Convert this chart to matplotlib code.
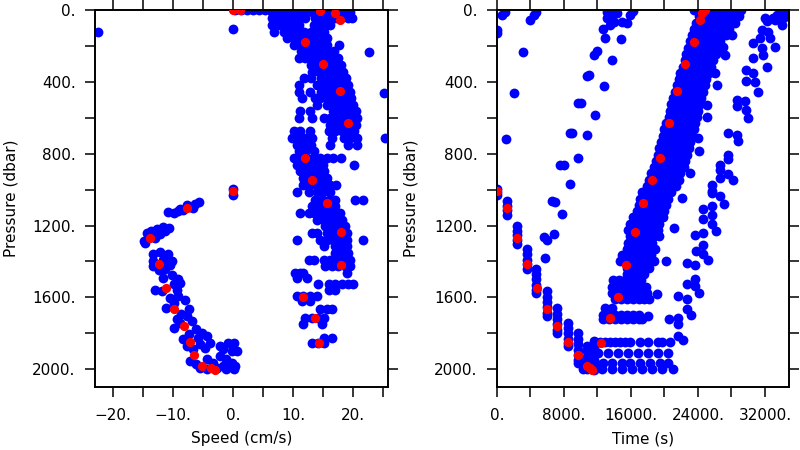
import numpy as np
import matplotlib
matplotlib.use("Agg")
import matplotlib.pyplot as plt
from matplotlib.ticker import FixedLocator, FuncFormatter

# ---------------- DATA ----------------
# Highlighted profile (red): pressure, speed, time
red_p = [0, 2, 1010, 1102, 1268, 1413, 1546, 1665, 1761, 1848, 1922, 1982, 1994, 2002,
         1852, 1713, 1596, 1417, 1236, 1077, 944, 824, 630, 450, 302, 180, 57, 18, 3]
red_speed = [0.0, 1.2, 0.0, -7.6, -13.8, -12.4, -11.1, -9.9, -8.2, -7.2, -6.5, -5.1, -3.7, -3.0,
             14.3, 13.7, 11.6, 18.0, 17.9, 15.7, 13.2, 11.9, 19.2, 17.8, 14.9, 12.0, 17.8, 17.0, 14.5]
red_time = [24800, 24700, 40, 1190, 2390, 3580, 4780, 5970, 7200, 8440, 9630, 10780, 11100, 11380,
            12420, 13450, 14450, 15460, 16480, 17470, 18470, 19480, 20500, 21490, 22510, 23500,
            24220, 24440, 24600]

# Left panel, positive-speed cloud: (pressure, [speeds])
speed_pos_rows = [
    (0, [0.3, 1.3, 2.3, 3.3, 4.3, 5.3, 6.3, 7.3, 8.3, 9.3, 10.3, 11.3, 12.3, 13.3, 15.2, 16.2, 17.2, 18.2, 19.2]),
    (9, [6.5, 7.6, 8.7, 9.8, 10.9, 12.0, 13.1, 13.9, 15.2, 16.3, 17.4, 18.5, 19.4]),
    (46, [6.4, 7.5, 8.6, 9.7, 10.8, 11.9, 13.6, 14.7, 15.8, 16.9, 18.0, 19.1, 19.8]),
    (83, [6.4, 7.6, 8.7, 9.8, 10.9, 13.4, 14.5, 15.6, 16.2]),
    (120, [6.8, 8.4, 9.6, 10.7, 11.8, 12.9, 14.0, 15.1]),
    (157, [9.0, 10.1, 11.2, 12.3, 13.4, 14.5, 15.6]),
    (194, [10.2, 11.3, 12.4, 13.5, 14.6, 15.7, 17.6]),
    (231, [11.3, 12.4, 13.5, 14.6, 15.7, 16.8]),
    (269, [10.9, 12.0, 13.1, 14.2, 15.3, 16.4, 17.5]),
    (306, [12.9, 14.0, 15.1, 16.2, 17.3, 18.0]),
    (343, [13.2, 14.3, 15.4, 16.5, 17.6, 18.3]),
    (380, [11.8, 12.9, 14.6, 15.7, 16.8, 17.9, 18.8]),
    (417, [11.0, 14.0, 15.1, 16.2, 17.3, 18.4, 19.1]),
    (454, [10.9, 12.8, 14.6, 15.7, 16.8, 17.9, 19.0, 19.5]),
    (491, [11.4, 13.6, 14.4, 15.7, 16.8, 17.9, 19.0, 19.7]),
    (528, [14.0, 15.7, 16.8, 17.9, 19.0, 20.0]),
    (565, [11.2, 12.8, 16.7, 17.8, 18.9, 20.0, 20.5]),
    (602, [10.9, 13.1, 15.1, 16.2, 17.3, 18.4, 19.5, 20.6]),
    (639, [16.2, 17.3, 18.4, 19.5, 20.5]),
    (676, [10.1, 11.2, 12.8, 15.9, 17.0, 18.1, 19.2, 20.2]),
    (713, [9.8, 10.9, 12.0, 13.2, 16.4, 18.4, 19.5, 20.6]),
    (750, [10.6, 11.7, 12.9, 16.2, 19.2, 20.6]),
    (787, [10.9, 12.0, 13.5]),
    (824, [10.1, 11.2, 12.3, 13.4, 14.4, 15.6, 16.7, 17.9]),
    (861, [10.6, 11.7, 12.8, 13.9, 15.0, 20.1]),
    (898, [11.2, 12.3, 13.4, 14.5, 15.1]),
    (935, [11.7, 12.8, 13.9, 15.0, 15.6]),
    (972, [11.7, 12.8, 13.9, 15.0, 16.1, 17.2]),
    (1012, [10.6, 12.7, 13.9, 15.0, 16.1]),
    (1056, [13.7, 14.8, 15.9, 17.0, 20.3, 21.6]),
    (1093, [13.1, 14.2, 15.3, 16.4, 17.0]),
    (1130, [11.2, 12.6, 13.4, 14.5, 15.6, 16.7, 17.8]),
    (1167, [14.0, 15.1, 16.2, 17.3, 18.1]),
    (1204, [15.3, 16.4, 17.5, 18.7]),
    (1241, [13.1, 14.0, 15.6, 16.7, 17.8, 18.9]),
    (1278, [10.6, 14.5, 15.6, 16.7, 17.8, 18.9, 21.6]),
    (1315, [15.1, 17.0, 18.1, 18.9]),
    (1352, [17.0, 18.1, 19.2]),
    (1389, [12.6, 13.4, 15.1, 16.2, 17.3, 18.4, 19.5]),
    (1426, [15.3, 16.4, 17.5, 18.6, 19.4]),
    (1463, [10.3, 11.2, 11.7, 18.9]),
    (1491, [10.6, 12.3]),
    (1528, [14.2, 15.9, 17.0, 18.1, 19.2, 20.0]),
    (1556, [15.9, 17.0]),
    (1593, [10.6, 11.7, 12.8, 14.0]),
    (1620, [11.4, 12.8]),
    (1667, [14.5, 15.6, 16.4]),
    (1713, [12.0, 13.1, 14.2, 15.1]),
    (1750, [11.7, 14.8]),
    (1824, [15.1, 16.4]),
    (1852, [13.1, 14.2, 15.1]),
]

# Left panel, negative-speed cloud: (speed, pressure)
speed_neg_pts = [
    (-10.8, 1126), (-9.9, 1130), (-9.1, 1120), (-8.3, 1111), (-7.2, 1096), (-6.3, 1078),
    (-5.6, 1070), (-6.6, 1102), (-8.8, 1107), (-7.7, 1083),
    (-14.9, 1287), (-14.4, 1241), (-13.6, 1232), (-12.7, 1219), (-11.6, 1207), (-10.6, 1213),
    (-13.0, 1269), (-12.2, 1245), (-14.7, 1296), (-11.3, 1232),
    (-13.3, 1361), (-12.2, 1348), (-10.8, 1361), (-10.2, 1398), (-13.3, 1426), (-11.3, 1444),
    (-10.5, 1422), (-12.4, 1448), (-13.3, 1395), (-11.6, 1389),
    (-11.6, 1491), (-10.2, 1478), (-9.1, 1500), (-13.0, 1556), (-11.9, 1565), (-9.9, 1528),
    (-8.8, 1519), (-9.4, 1556),
    (-10.5, 1602), (-9.1, 1593), (-8.0, 1615), (-11.1, 1657), (-7.4, 1667), (-8.6, 1695),
    (-9.9, 1630),
    (-9.4, 1722), (-7.7, 1704), (-6.9, 1732), (-9.9, 1769), (-6.1, 1778), (-5.2, 1796),
    (-7.4, 1806), (-8.8, 1741),
    (-8.3, 1833), (-5.8, 1824), (-4.4, 1815), (-3.8, 1852), (-4.7, 1880), (-7.7, 1870),
    (-2.2, 1870), (-1.6, 1889), (-0.8, 1852), (0.1, 1856), (-0.2, 1898), (0.6, 1898),
    (-6.6, 1889), (-5.5, 1861),
    (-7.2, 1954), (-6.1, 1972), (-4.4, 1944), (-3.3, 1963), (-2.2, 1926), (-1.1, 1944),
    (-0.2, 1963), (0.3, 1982), (-1.6, 1982), (-5.5, 1991), (-4.4, 2000), (-1.1, 2000),
    (0.1, 2000), (-2.7, 1991),
]

# Left panel, isolated points: (speed, pressure)
speed_iso_pts = [(-22.5, 120), (0.0, 105), (0.0, 995), (0.0, 1030),
                 (22.7, 235), (25.1, 463), (25.3, 713)]

# Right panel, main ascent band: (pressure, [times])
band_rows = [
    (0, [23500, 24200, 24900, 25600, 26300, 27000, 27700, 28400, 29100]),
    (35, [24100, 24800, 25500, 26200, 26900, 27600, 28300, 28900]),
    (70, [23800, 24500, 25200, 25900, 26600, 27300, 28000, 28400]),
    (105, [23500, 24200, 24900, 25600, 26300, 27000, 27700]),
    (140, [23300, 24000, 24700, 25400, 26100, 26800, 27400]),
    (175, [23100, 23800, 24500, 25200, 25900, 26600]),
    (210, [22800, 23500, 24200, 24900, 25600, 26300]),
    (245, [22600, 23300, 24000, 24700, 25400, 26100]),
    (280, [22400, 23100, 23800, 24500, 25200, 25800]),
    (315, [22200, 22900, 23600, 24300, 25000, 25500]),
    (350, [21900, 22600, 23300, 24000, 24700, 25300]),
    (385, [21700, 22400, 23100, 23800, 24500, 25000]),
    (420, [21500, 22200, 22900, 23600, 24300, 24800]),
    (455, [21300, 22000, 22700, 23400, 24100, 24600]),
    (490, [21000, 21700, 22400, 23100, 23800, 24400]),
    (525, [20800, 21500, 22200, 22900, 23600, 24200]),
    (560, [20700, 21400, 22100, 22800, 23500, 24000]),
    (595, [20500, 21200, 21900, 22600, 23300, 23900]),
    (630, [20200, 20900, 21600, 22300, 23000, 23700]),
    (665, [20000, 20700, 21400, 22100, 22800, 23500]),
    (700, [19800, 20500, 21200, 21900, 22600, 23300]),
    (735, [19600, 20300, 21000, 21700, 22400, 23100]),
    (770, [19400, 20100, 20800, 21500, 22200, 22900]),
    (805, [19200, 19900, 20600, 21300, 22000, 22700]),
    (840, [19000, 19700, 20400, 21100, 21800, 22500]),
    (875, [18700, 19400, 20100, 20800, 21500, 22300]),
    (910, [18400, 19100, 19800, 20500, 21200, 21900]),
    (945, [18200, 18900, 19600, 20300, 21000, 21700]),
    (980, [17900, 18600, 19300, 20000, 20700, 21400]),
    (1015, [17300, 18000, 18700, 19400, 20100, 20800]),
    (1050, [17100, 17800, 18500, 19200, 19900, 20400]),
    (1085, [17000, 17700, 18400, 19100, 19800, 20200]),
    (1120, [16700, 17400, 18100, 18800, 19500, 20000]),
    (1155, [16300, 17000, 17700, 18400, 19100, 19800]),
    (1190, [15900, 16600, 17300, 18000, 18700, 19400]),
    (1225, [15700, 16400, 17100, 17800, 18500, 19200]),
    (1260, [15900, 16600, 17300, 18000, 18700, 19400]),
    (1295, [15700, 16400, 17100, 17800, 18500]),
    (1330, [15500, 16200, 16900, 17600, 18300, 18900]),
    (1365, [14900, 15600, 16300, 17000, 17700, 18400]),
    (1400, [14700, 15400, 16100, 16800, 17500, 18200, 18800]),
    (1435, [15500, 16200, 16900, 17600, 18200]),
    (1470, [15500, 16200, 16900, 17600]),
    (1505, [13900, 14600, 15300, 16000, 16700, 17200]),
    (1540, [13700, 14400, 15100, 15800, 16500, 17200, 17800]),
    (1575, [13700, 14400, 15100, 15800, 16500, 17200, 17900]),
    (1610, [14100, 14800, 15500, 16200, 16900, 17600, 18200]),
    (1660, [12900, 13700]),
    (1700, [12700, 13400, 14100, 14800, 15500, 16200, 16900]),
    (1720, [12700, 13400, 14100, 14800, 15500, 16200, 16900, 17300]),
]

# Right panel, scattered points around the band: (time, pressure)
band_extra_pts = [
    (26630, 213), (27220, 250), (26030, 352), (26230, 417), (25030, 528), (25110, 593),
    (24040, 713), (24120, 787), (23040, 907), (28020, 139), (27020, 204), (18070, 1704),
    (19060, 1580), (20140, 1398), (21170, 1213), (22130, 1046),
]

# Right panel, descent stacks: (time, [pressures])
descent_cols = [
    (0, [995, 1013, 1030]),
    (1190, [1065, 1090, 1115, 1139]),
    (2390, [1204, 1230, 1255, 1280, 1300]),
    (3580, [1333, 1360, 1390, 1415, 1444]),
    (4700, [1444, 1470, 1500, 1530, 1560, 1574]),
    (5970, [1565, 1595, 1625, 1655, 1685, 1704]),
    (7200, [1657, 1690, 1720, 1750, 1780, 1796]),
    (8440, [1741, 1770, 1800, 1830, 1855, 1870]),
    (9630, [1796, 1830, 1860, 1890, 1920, 1950, 1963]),
    (10780, [1870, 1900, 1930, 1960, 1990, 2000]),
    (11600, [1845, 1880, 1915, 1950, 1985, 2005]),
]

# Right panel, near-bottom rows: (pressure, [times])
bottom_rows = [
    (1850, [11700, 12300, 12900, 13500, 14100, 14700, 15300, 15900, 17070, 18070, 19260, 19660, 20660]),
    (1907, [12100, 13290, 14490, 15680, 16880, 18070, 19260, 20460]),
    (1963, [11700, 12700, 13690, 14890, 15880, 17070, 18270, 19460, 20460]),
    (2000, [10310, 11500, 12500, 13690, 14890, 16080, 17270, 18470, 19660, 21050]),
]

# Right panel, early and middle streaks: (time, pressure)
early_pts = [(600, 28), (1000, 9), (3980, 56), (4380, 28), (4700, 9), (0, 111), (0, 130),
             (3100, 235), (2070, 463), (1075, 717)]
middle_pts = [
    (13130, 46), (13730, 28), (14330, 18), (13930, 65), (13530, 83), (14925, 65), (13100, 10),
    (13500, 5), (15480, 74), (15880, 28), (16280, 3), (12660, 106), (12860, 157), (14770, 163),
    (13730, 278), (11540, 250), (11940, 231), (10750, 370), (11020, 361), (12740, 422),
    (9670, 519), (10030, 519), (11740, 583), (8680, 685), (8990, 685), (10750, 694),
    (9670, 824), (7560, 861), (8040, 865), (8760, 969), (6570, 1061), (6965, 1068),
    (7760, 1133), (5570, 1265), (5970, 1283), (6770, 1246), (5730, 1380),
]
# Right panel, late streaks: (time, pressure)
late_pts = [
    (32000, 46), (32200, 61), (32990, 43), (33390, 28), (34190, 46), (34590, 31), (33990, 83),
    (33190, 55), (34190, 5), (31600, 111), (32400, 120), (31400, 157), (32600, 154),
    (33190, 204), (30600, 185), (31600, 213), (31720, 250), (30600, 268), (32200, 320),
    (29730, 333), (30600, 352), (29730, 394), (30800, 402), (31120, 454), (28620, 500),
    (28700, 537), (29610, 509), (29730, 555), (30010, 602), (27620, 685), (28620, 694),
    (28820, 731), (27620, 806), (27620, 828), (26620, 861), (26620, 889), (27620, 913),
    (28220, 944), (25630, 972), (26620, 935), (25630, 1006), (25630, 1019), (26630, 1037),
    (27140, 1078), (24640, 1106), (25630, 1093), (24640, 1163), (25630, 1144), (25630, 1194),
    (26150, 1231), (23640, 1250), (24640, 1244), (24640, 1306), (23720, 1343), (24640, 1361),
    (25150, 1394), (22650, 1411), (23640, 1422), (23640, 1496), (22730, 1528), (23640, 1537),
    (24120, 1574), (21650, 1593), (22650, 1611), (22650, 1667), (23160, 1700), (20580, 1718),
    (21650, 1713), (21570, 1750), (21570, 1815), (22250, 1837),
]

# Axis ticks / labels
speed_major = [-20, -10, 0, 10, 20]
speed_minor = [-15, -5, 5, 15, 25]
time_major = [0, 8000, 16000, 24000, 32000]
time_minor = [4000, 12000, 20000, 28000]
pres_major = [0, 400, 800, 1200, 1600, 2000]
pres_minor = [200, 600, 1000, 1400, 1800]
speed_lim = (-23.0, 25.8)
time_lim = (0, 34870)
pres_lim = (2097, 0)


# ---------------- helpers ----------------
def from_rows(rows):
    xs, ps = [], []
    for p, vals in rows:
        for v in vals:
            xs.append(v)
            ps.append(p)
    return xs, ps


def from_cols(cols):
    xs, ps = [], []
    for x, vals in cols:
        for p in vals:
            xs.append(x)
            ps.append(p)
    return xs, ps


def from_pts(pts):
    return [a for a, _ in pts], [b for _, b in pts]


def fmt(v, pos):
    return f"{v:.0f}.".replace("-", "\u2212")


def style(ax, major_x, minor_x, xlim):
    ax.set_xlim(*xlim)
    ax.set_ylim(*pres_lim)
    ax.xaxis.set_major_locator(FixedLocator(major_x))
    ax.xaxis.set_minor_locator(FixedLocator(minor_x))
    ax.yaxis.set_major_locator(FixedLocator(pres_major))
    ax.yaxis.set_minor_locator(FixedLocator(pres_minor))
    ax.xaxis.set_major_formatter(FuncFormatter(fmt))
    ax.yaxis.set_major_formatter(FuncFormatter(fmt))
    ax.tick_params(which="both", direction="out", length=7, width=1.1,
                   top=True, right=True, labeltop=False, labelright=False,
                   labelsize=11, colors="black")
    ax.tick_params(axis="x", which="both", pad=8)
    ax.tick_params(axis="y", which="both", pad=7)
    for s in ax.spines.values():
        s.set_linewidth(1.4)
    ax.set_ylabel("Pressure (dbar)", fontsize=11)
    ax.yaxis.set_label_coords(-0.262, 0.5)
    ax.xaxis.set_label_coords(0.5, -0.118)


plt.rcParams["font.family"] = ["DejaVu Sans"]
BLUE = "#0000ff"
RED = "#ff0000"
S_BLUE = 50
S_RED = 44

fig = plt.figure(figsize=(8, 4.5), dpi=100)
axL = fig.add_axes([0.11875, 0.1407, 0.36625, 0.8371])
axR = fig.add_axes([0.62125, 0.1407, 0.365, 0.8371])

# Left panel
for xs, ps in (from_rows(speed_pos_rows), from_pts(speed_neg_pts), from_pts(speed_iso_pts)):
    axL.scatter(xs, ps, s=S_BLUE, c=BLUE, linewidths=0, zorder=2)
axL.scatter(red_speed, red_p, s=S_RED, c=RED, linewidths=0, zorder=3)
style(axL, speed_major, speed_minor, speed_lim)
axL.set_xlabel("Speed (cm/s)", fontsize=11)

# Right panel
for xs, ps in (from_rows(band_rows), from_pts(band_extra_pts), from_cols(descent_cols),
               from_rows(bottom_rows), from_pts(early_pts), from_pts(middle_pts),
               from_pts(late_pts)):
    axR.scatter(xs, ps, s=S_BLUE, c=BLUE, linewidths=0, zorder=2)
axR.scatter(red_time, red_p, s=S_RED, c=RED, linewidths=0, zorder=3)
style(axR, time_major, time_minor, time_lim)
axR.yaxis.set_label_coords(-0.27, 0.5)
axR.set_xlabel("Time (s)", fontsize=11)

fig.savefig("out.png", dpi=100)
